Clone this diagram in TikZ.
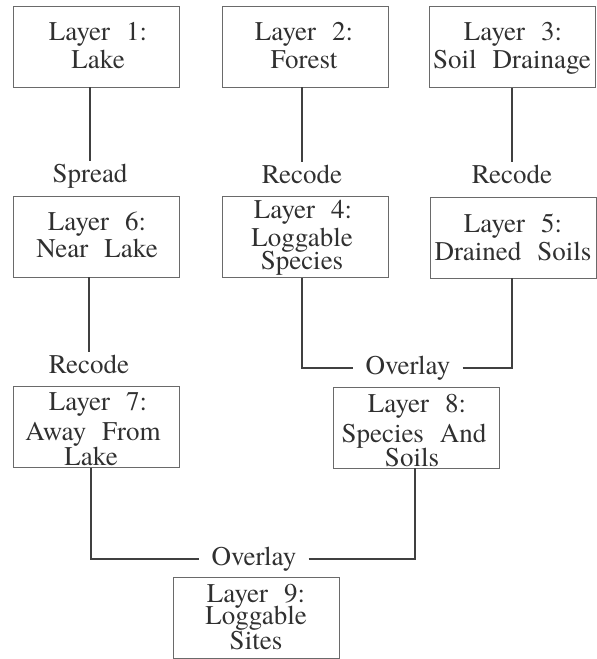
\documentclass[tikz,border=0pt]{standalone}
\usepackage{fontspec}
\newfontfamily\diagfont{TeX Gyre Termes}
\newcommand{\diagsize}{\diagfont\fontsize{27}{30}\selectfont\spaceskip=16pt plus 2pt minus 2pt\relax}
\definecolor{boxc}{HTML}{6A6A6A}
\definecolor{linec}{HTML}{404040}
\definecolor{ink}{HTML}{303030}
\begin{document}
\begin{tikzpicture}[x=1pt,y=1pt,
  box/.style={draw=boxc,line width=0.9pt,rectangle,inner sep=0pt,minimum width=166pt,minimum height=81pt},
  txt/.style={anchor=base,inner sep=0pt,text=ink,font=\diagsize},
  lbl/.style={anchor=base,inner xsep=12pt,inner ysep=0pt,text=ink,font=\diagsize},
  conn/.style={draw=linec,line width=1.6pt}]
\useasboundingbox (0,0) rectangle (597,-659);
% boxes
\node[box] (b1) at (96.5,-46.5) {};
\node[box] (b2) at (305,-46.5) {};
\node[box] (b3) at (512.5,-47) {};
\node[box] (b6) at (96.5,-236.5) {};
\node[box] (b4) at (305,-237) {};
\node[box] (b5) at (513,-237.5) {};
\node[box] (b7) at (96.5,-427) {};
\node[box] (b8) at (416.5,-427.5) {};
\node[box] (b9) at (256.5,-618) {};
% box texts
\node[txt] (t1a) at (98,-40) {Layer 1:};
\node[txt] (t1b) at (98,-68) {Lake};
\node[txt] (t2a) at (304,-40) {Layer 2:};
\node[txt] (t2b) at (304,-68) {Forest};
\node[txt] (t3a) at (513,-40) {Layer 3:};
\node[txt] (t3b) at (512,-68) {Soil Drainage};
\node[txt] (t6a) at (97,-230) {Layer 6:};
\node[txt] (t6b) at (97,-257) {Near Lake};
\node[txt] (t4a) at (303,-218) {Layer 4:};
\node[txt] (t4b) at (302,-246) {Loggable};
\node[txt] (t4c) at (302,-269) {Species};
\node[txt] (t5a) at (513,-232) {Layer 5:};
\node[txt] (t5b) at (513,-260) {Drained Soils};
\node[txt] (t7a) at (98,-410) {Layer 7:};
\node[txt] (t7b) at (93,-440) {Away From};
\node[txt] (t7c) at (91,-465) {Lake};
\node[txt] (t8a) at (417,-412) {Layer 8:};
\node[txt] (t8b) at (414,-442) {Species And};
\node[txt] (t8c) at (412,-466) {Soils};
\node[txt] (t9a) at (256,-602) {Layer 9:};
\node[txt] (t9b) at (256,-624) {Loggable};
\node[txt] (t9c) at (256,-649) {Sites};
% operation labels
\node[lbl] (sp) at (90,-182) {Spread};
\node[lbl] (r2) at (302,-183) {Recode};
\node[lbl] (r3) at (512,-183) {Recode};
\node[lbl] (r6) at (89,-373) {Recode};
\node[lbl] (ov1) at (408,-374) {Overlay};
\node[lbl] (ov2) at (254,-565) {Overlay};
% connectors
\draw[conn] (b1.south -| sp) -- ([yshift=2pt]sp.north);
\draw[conn] (b2.south -| r2) -- ([yshift=2pt]r2.north);
\draw[conn] (b3.south -| r3) -- ([yshift=2pt]r3.north);
\draw[conn] (b6.south -| r6) -- ([yshift=2pt]r6.north);
\draw[conn] (b4.south -| r2) |- (ov1.west);
\draw[conn] (ov1.east) -| (b5.south -| r3);
\draw[conn] ([xshift=2pt]b7.south -| r6) |- (ov2.west);
\draw[conn] (ov2.east) -| ([xshift=-1.5pt]b8.south);
\end{tikzpicture}
\end{document}
